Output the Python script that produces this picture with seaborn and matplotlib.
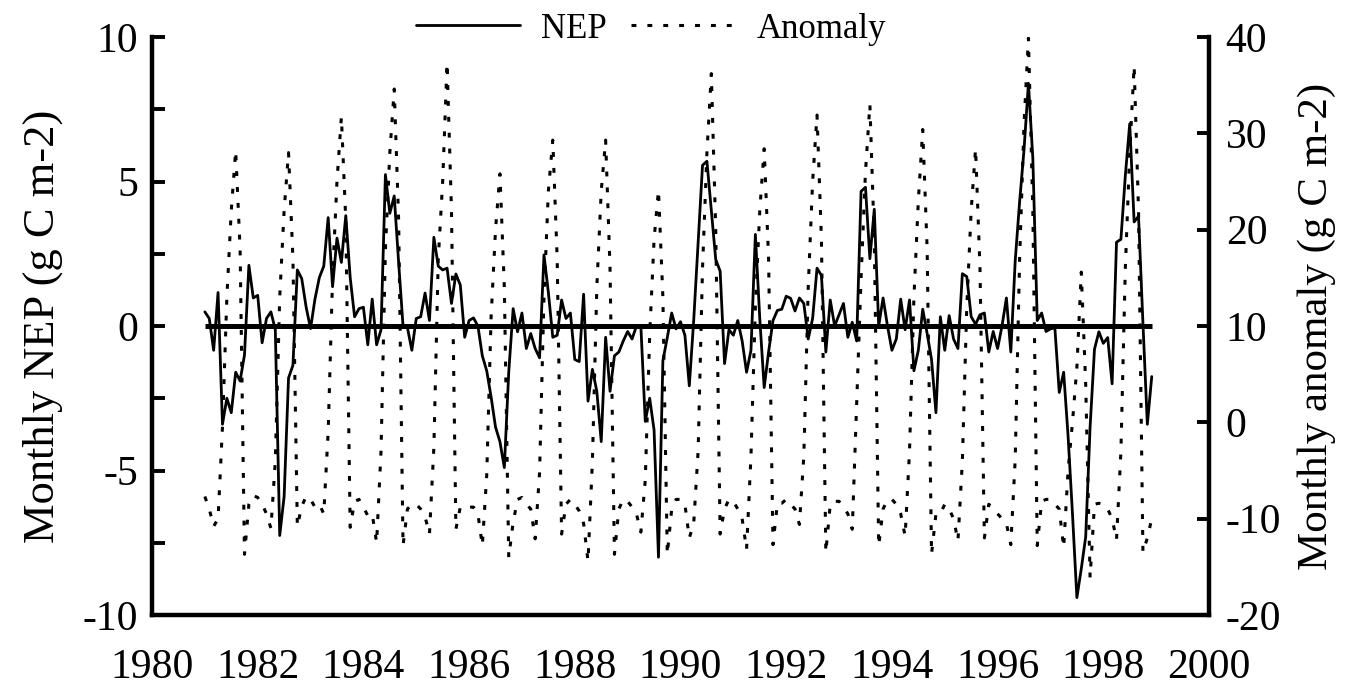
import numpy as np
import pandas as pd
import matplotlib
matplotlib.use("Agg")
import matplotlib.pyplot as plt
import matplotlib.ticker as ticker
import seaborn as sns

# monthly values, Jan..Dec
years = list(range(1981, 1999))

nep_1981 = [0.49, 0.26, -0.84, 1.16, -3.4, -2.5, -3.0, -1.6, -1.9, -1.0, 2.1, 0.97]
nep_1982 = [1.06, -0.58, 0.26, 0.49, -0.13, -7.25, -5.9, -1.8, -1.36, 1.94, 1.64, 0.65]
nep_1983 = [-0.09, 0.93, 1.68, 2.07, 3.75, 1.36, 3.04, 2.2, 3.82, 1.68, 0.32, 0.6]
nep_1984 = [0.65, -0.65, 0.93, -0.65, -0.13, 5.24, 3.9, 4.5, 2.2, 0.0, -0.06, -0.84]
nep_1985 = [0.26, 0.32, 1.14, 0.19, 3.07, 2.07, 1.94, 2.0, 0.78, 1.8, 1.42, -0.39]
nep_1986 = [0.19, 0.28, 0.0, -1.03, -1.55, -2.46, -3.5, -4.0, -4.9, -1.6, 0.6, -0.2]
nep_1987 = [0.45, -0.78, -0.26, -0.78, -1.1, 2.46, 1.16, -0.39, -0.32, 0.9, 0.26, 0.45]
nep_1988 = [-1.16, -1.23, 1.1, -2.6, -1.5, -2.26, -4.0, -0.39, -2.26, -1.03, -0.9, -0.52]
nep_1989 = [-0.19, -0.45, 0.0, 0.0, -3.3, -2.5, -3.6, -8.0, -1.2, -0.4, 0.45, -0.1]
nep_1990 = [0.15, -0.32, -2.07, 0.2, 2.9, 5.56, 5.7, 4.0, 2.3, 1.9, -1.3, -0.13]
nep_1991 = [-0.32, 0.19, -0.52, -1.6, -0.84, 3.17, 0.26, -2.13, -0.9, 0.19, 0.54, 0.58]
nep_1992 = [1.03, 0.96, 0.52, 0.97, 0.78, -0.45, 0.26, 2.0, 1.75, -0.9, 0.9, 0.0]
nep_1993 = [0.39, 0.78, -0.39, 0.13, -0.52, 4.66, 4.8, 2.33, 4.04, 0.0, 0.97, 0.0]
nep_1994 = [-0.84, -0.45, 0.93, -0.13, 0.9, -1.55, -0.84, 0.58, -0.26, -1.16, -3.0, 0.32]
nep_1995 = [-0.84, 0.36, -0.45, -0.78, 1.81, 1.71, 0.32, 0.06, 0.39, 0.45, -0.9, -0.19]
nep_1996 = [-0.78, 0.0, 0.97, -0.9, 2.26, 4.3, 6.1, 8.4, 5.8, 0.19, 0.45, -0.19]
nep_1997 = [-0.1, -0.06, -2.3, -1.6, -3.8, -6.5, -9.4, -8.4, -7.3, -3.5, -0.8, -0.2]
nep_1998 = [-0.6, -0.4, -2.0, 2.9, 3.0, 5.2, 7.0, 3.6, 3.8, 0.1, -3.4, -1.75]

anom_1981 = [-7.7, -9.0, -10.8, -10.0, -0.5, 13, 22, 28.2, 18, -13.7, -8.5, -7.6]
anom_1982 = [-7.8, -8.5, -9.5, -11.0, -4.0, 13, 22, 28.0, 17, -10.8, -8.7, -7.7]
anom_1983 = [-8.0, -8.8, -8.5, -9.5, -1.0, 15, 25, 31.7, 21, -10.9, -8.2, -8.0]
anom_1984 = [-8.8, -9.7, -9.5, -12.5, -3.0, 18, 28, 34.6, 21, -12.8, -9.0, -8.5]
anom_1985 = [-8.5, -9.0, -9.8, -11.6, -2.6, 17, 25, 37.3, 22, -11.1, -8.8, -8.8]
anom_1986 = [-8.8, -8.8, -9.5, -12.8, -5.5, 11, 20, 25.8, 14, -14.0, -10.4, -8.0]
anom_1987 = [-7.8, -8.5, -9.0, -12.1, -5.2, 13, 24, 29.3, 17, -11.6, -8.5, -8.0]
anom_1988 = [-8.5, -9.2, -10.5, -14.4, -4.0, 14, 24, 29.3, 16, -13.7, -9.0, -8.0]
anom_1989 = [-8.2, -8.8, -9.5, -11.4, -6.0, 9, 19, 24.1, 13, -13.7, -9.0, -8.0]
anom_1990 = [-8.0, -8.5, -12.0, -10.5, -3.0, 16, 28, 36.2, 20, -11.6, -9.0, -8.0]
anom_1991 = [-8.2, -9.0, -10.0, -13.2, -3.5, 12, 22, 28.4, 17, -12.7, -8.4, -8.4]
anom_1992 = [-8.0, -8.5, -9.0, -10.6, -3.5, 14, 25, 31.9, 19, -13.5, -8.5, -8.2]
anom_1993 = [-8.2, -8.8, -9.5, -11.1, 2.0, 15, 26, 33.0, 19, -12.8, -9.0, -8.0]
anom_1994 = [-8.0, -8.5, -9.5, -11.8, -3.0, 13, 23, 30.4, 18, -13.7, -9.5, -9.5]
anom_1995 = [-8.5, -9.0, -10.0, -12.3, -4.0, 12, 22, 28.4, 16, -12.0, -8.5, -9.0]
anom_1996 = [-9.5, -10.0, -10.5, -12.7, -3.8, 17, 31, 39.9, 22, -12.8, -8.2, -8.0]
anom_1997 = [-8.0, -8.5, -9.0, -13.0, -5.0, 0.0, 5.7, 15.6, 4.0, -16.1, -8.5, -8.4]
anom_1998 = [-8.5, -9.0, -10.0, -12.2, -3.0, 16, 28, 37.0, 22, -13.5, -12.0, -10.0]

nep_years = [nep_1981, nep_1982, nep_1983, nep_1984, nep_1985, nep_1986,
             nep_1987, nep_1988, nep_1989, nep_1990, nep_1991, nep_1992,
             nep_1993, nep_1994, nep_1995, nep_1996, nep_1997, nep_1998]
anom_years = [anom_1981, anom_1982, anom_1983, anom_1984, anom_1985, anom_1986,
              anom_1987, anom_1988, anom_1989, anom_1990, anom_1991, anom_1992,
              anom_1993, anom_1994, anom_1995, anom_1996, anom_1997, anom_1998]

rows = []
for yr, nep_vals, anom_vals in zip(years, nep_years, anom_years):
    for m in range(12):
        rows.append({"time": yr + m / 12.0, "nep": nep_vals[m],
                     "anomaly": anom_vals[m], "zero": 0.0})
df = pd.DataFrame(rows)

sns.set_style("white")
plt.rcParams["font.family"] = ["Liberation Serif", "DejaVu Serif"]
plt.rcParams["axes.unicode_minus"] = False
plt.rcParams["axes.edgecolor"] = "black"
plt.rcParams["text.color"] = "black"
plt.rcParams["xtick.color"] = "black"
plt.rcParams["ytick.color"] = "black"
plt.rcParams["axes.labelcolor"] = "black"

fig = plt.figure(figsize=(13.54, 6.9), dpi=100)
ax = fig.add_axes([152 / 1354, 1 - 615 / 690, (1209 - 152) / 1354, (615 - 37) / 690])
ax2 = ax.twinx()

# zero baseline and NEP on the left axis
sns.lineplot(data=df, x="time", y="zero", ax=ax, color="black", linewidth=3.6,
             solid_capstyle="butt")
sns.lineplot(data=df, x="time", y="nep", ax=ax, color="black", linewidth=2.0,
             label="NEP")
# anomaly on the right axis
sns.lineplot(data=df, x="time", y="anomaly", ax=ax2, color="black",
             linewidth=2.2, linestyle=(0, (1.6, 3.6)), label="Anomaly")

ax.set_xlim(1980, 2000)
ax.set_ylim(-10, 10)
ax2.set_ylim(-20, 40)

ax.xaxis.set_major_locator(ticker.MultipleLocator(2))
ax.xaxis.set_minor_locator(ticker.MultipleLocator(1))
ax.xaxis.set_major_formatter(ticker.FormatStrFormatter("%d"))
ax.yaxis.set_major_locator(ticker.MultipleLocator(5))
ax.yaxis.set_minor_locator(ticker.MultipleLocator(2.5))
ax2.yaxis.set_major_locator(ticker.MultipleLocator(10))

for a in (ax, ax2):
    a.spines["top"].set_visible(False)
    for s in ("left", "right", "bottom"):
        a.spines[s].set_linewidth(3.2)
        a.spines[s].set_color("black")
    a.tick_params(which="both", direction="in", length=9, width=2.8,
                  labelsize=30, color="black", labelcolor="black")
    a.grid(False)

ax.spines["right"].set_visible(False)
ax2.spines["left"].set_visible(False)
ax2.spines["bottom"].set_visible(False)
ax.tick_params(axis="x", which="both", pad=24)
ax.tick_params(axis="y", which="both", pad=10, right=False)
ax2.tick_params(axis="y", which="both", pad=12)

ax.set_xlabel("")
ax.set_ylabel("Monthly NEP (g C m-2)", fontsize=32, labelpad=14)
ax2.set_ylabel("Monthly anomaly (g C m-2)", fontsize=31, labelpad=12)

h1, l1 = ax.get_legend_handles_labels()
h2, l2 = ax2.get_legend_handles_labels()
ax.get_legend().remove()
ax2.get_legend().remove()
fig.legend(h1 + h2, l1 + l2, loc="center", bbox_to_anchor=(651 / 1354, 1 - 29 / 690),
           ncol=2, frameon=False, fontsize=25, handlelength=3.0,
           handletextpad=0.6, columnspacing=0.7)

fig.savefig("out.png", dpi=100)
